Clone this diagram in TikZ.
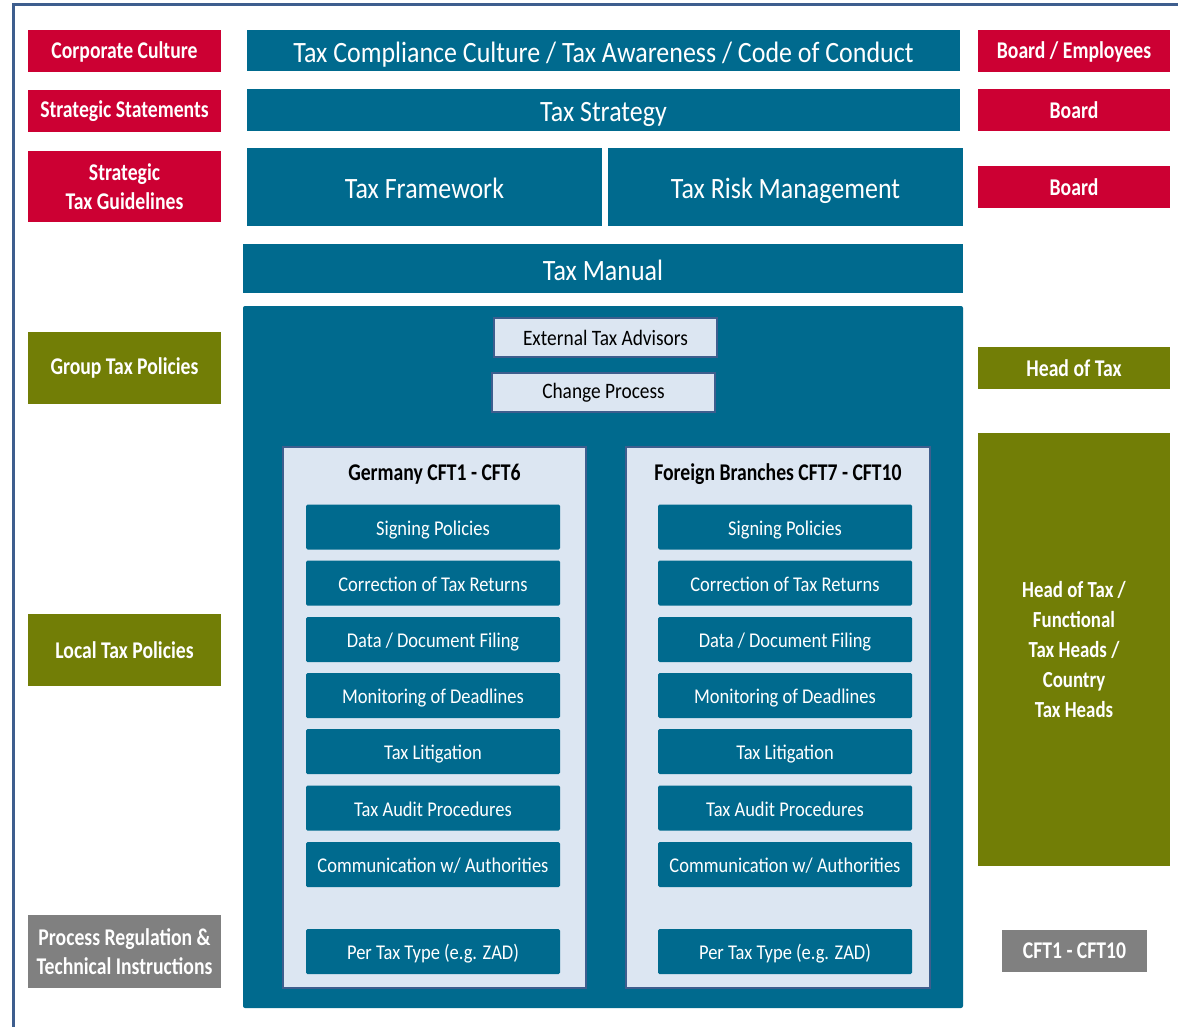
\documentclass[tikz,border=0pt]{standalone}
\usepackage{fontspec}
\setmainfont[FakeStretch=0.88,BoldFeatures={FakeStretch=0.82}]{Carlito}
\usepackage{tikz}
\usetikzlibrary{positioning}

\definecolor{taxred}{HTML}{CC0033}
\definecolor{taxteal}{HTML}{006A8E}
\definecolor{taxolive}{HTML}{727E06}
\definecolor{taxgrey}{HTML}{808080}
\definecolor{taxlight}{HTML}{DCE6F2}
\definecolor{taxframe}{HTML}{3E5E8E}

\tikzset{
  lbl/.style={inner sep=0pt, text=white, align=center, font=\bfseries\fontsize{24}{29}\selectfont},
  redlbl/.style={lbl, fill=taxred, minimum width=193, minimum height=42},
  olivelbl/.style={lbl, fill=taxolive, minimum width=193, minimum height=72},
  greylbl/.style={lbl, fill=taxgrey, minimum width=193, minimum height=73},
  bar/.style={inner sep=0pt, fill=taxteal, text=white, text height=30pt, text depth=6pt,
    font=\fontsize{29.5}{34}\selectfont},
  lightbox/.style={inner sep=0pt, fill=taxlight, draw=taxframe, line width=2.5},
  item/.style={inner sep=0pt, fill=taxteal, text=white, rounded corners=1.5,
    text height=20pt, text depth=4pt,
    minimum width=254, minimum height=45, font=\fontsize{21}{24}\selectfont},
  paneltitle/.style={font=\bfseries\fontsize{24}{28}\selectfont}
}

\begin{document}
\begin{tikzpicture}[x=1pt,y=-1pt]
\useasboundingbox[fill=white] (0,0) rectangle (1178,1027);
\draw[taxframe, line width=3] (13,1027) -- (13,5) -- (1178,5);

% left column
\node[redlbl] (cc) at (124.5,51.5) {Corporate Culture};
\node[redlbl] (ss) at (124.5,111) {Strategic Statements};
\node[redlbl, minimum height=71] (stg) at (124.5,187) {Strategic\\Tax Guidelines};
\node[olivelbl] (gtp) at (124.5,368) {Group Tax Policies};
\node[olivelbl] (ltp) at (124.5,650) {Local Tax Policies};
\node[greylbl] (prt) at (124.5,951.5) {Process Regulation \&\\Technical Instructions};

% middle column
\node[bar, minimum width=713, minimum height=41] (culture) at (603.5,51) {Tax Compliance Culture / Tax Awareness / Code of Conduct};
\node[bar, minimum width=713, minimum height=42] (strategy) at (603.5,110) {Tax Strategy};
\node[bar, minimum width=355, minimum height=78] (framework) at (424.5,187) {Tax Framework};
\node[bar, minimum width=355, minimum height=78] (riskmgmt) at (785.5,187) {Tax Risk Management};
\node[bar, minimum width=720, minimum height=49] (manual) at (603,268.5) {Tax Manual};
\node[bar, minimum width=720, minimum height=702, rounded corners=2] (panel) at (603,657) {};

\node[lightbox, minimum width=223, minimum height=39, font=\fontsize{22}{26}\selectfont] (advisors) at (605.5,337.5) {External Tax Advisors};
\node[lightbox, minimum width=223, minimum height=39, font=\fontsize{22}{26}\selectfont] (change) at (603.5,392.5) {Change Process};

\node[lightbox, minimum width=303, minimum height=541] (germany) at (434.5,717.5) {};
\node[lightbox, minimum width=304, minimum height=541] (foreign) at (778,717.5) {};
\node[paneltitle] (gertitle) at (434.5,474) {Germany CFT1 - CFT6};
\node[paneltitle] (fortitle) at (778,474) {Foreign Branches CFT7 - CFT10};

\foreach \y/\txt [count=\i] in {527/{Signing Policies}, 583/{Correction of Tax Returns},
    639.5/{Data / Document Filing}, 695.5/{Monitoring of Deadlines}, 751.5/{Tax Litigation},
    808/{Tax Audit Procedures}, 864.5/{Communication w/ Authorities}, 951.5/{Per Tax Type (e.g. ZAD)}} {
  \node[item] (ger\i) at (433,\y) {\txt};
  \node[item] (for\i) at (785,\y) {\txt};
}

% right column
\node[redlbl, minimum width=192] (be) at (1074,51.5) {Board / Employees};
\node[redlbl, minimum width=192] (board1) at (1074,110) {Board};
\node[redlbl, minimum width=192] (board2) at (1074,187) {Board};
\node[olivelbl, minimum width=192, minimum height=42] (hot) at (1074,368) {Head of Tax};
\node[olivelbl, minimum width=192, minimum height=433, font=\bfseries\fontsize{23}{30}\selectfont] (heads) at (1074,649.5)
  {Head of Tax /\\Functional\\Tax Heads /\\Country\\Tax Heads};
\node[greylbl, minimum width=145, minimum height=42] (cft) at (1074.5,951) {CFT1 - CFT10};
\end{tikzpicture}
\end{document}
